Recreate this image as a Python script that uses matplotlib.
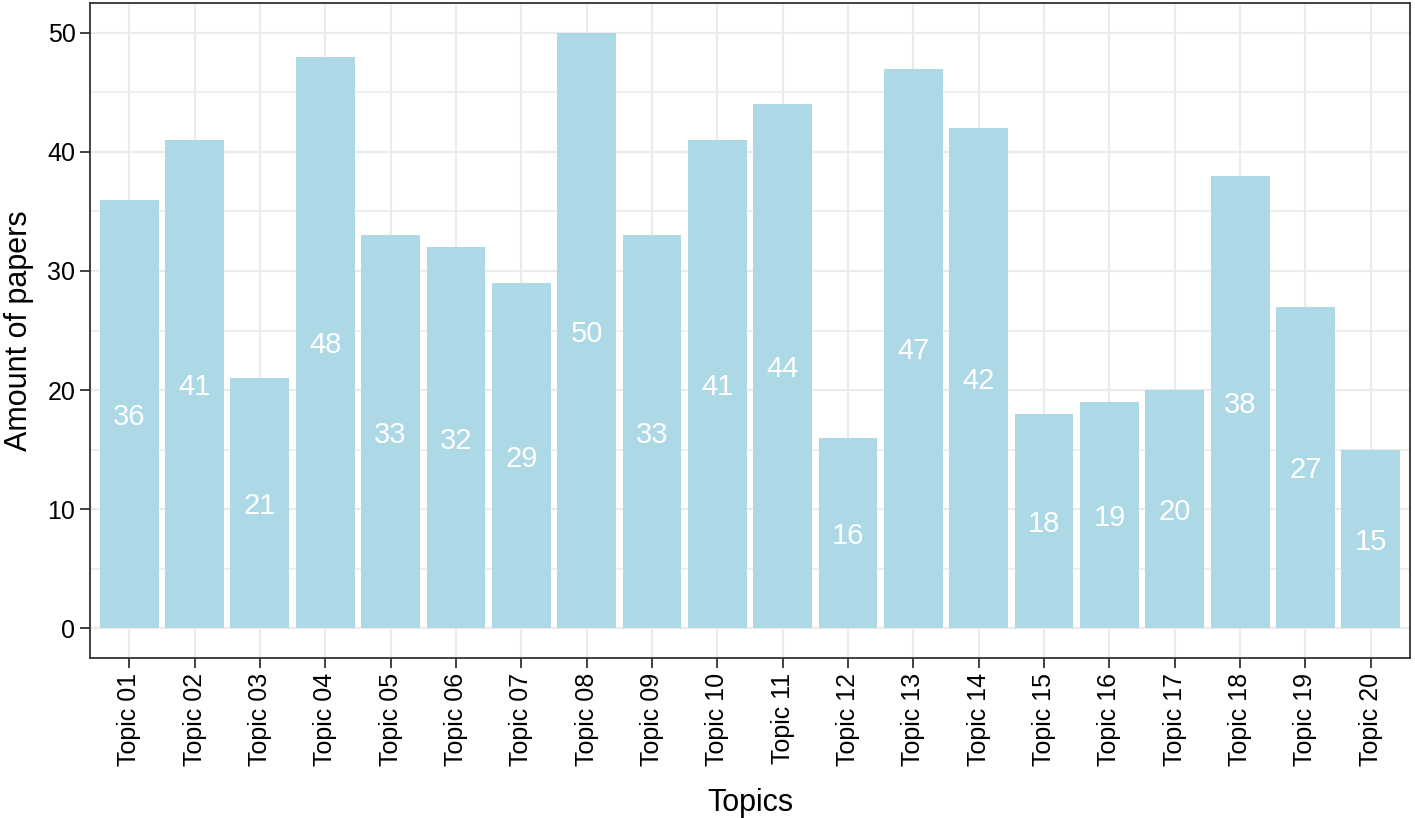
import matplotlib
matplotlib.use('Agg')
import matplotlib.pyplot as plt
from matplotlib.ticker import MultipleLocator

plt.rcParams['font.family'] = ['Liberation Sans', 'DejaVu Sans']

topics = ['Topic %02d' % i for i in range(1, 21)]
papers = [36, 41, 21, 48, 33, 32, 29, 50, 33, 41, 44, 16, 47, 42, 18, 19, 20, 38, 27, 15]

fig = plt.figure(figsize=(14.15, 8.18), dpi=100)
ax = fig.add_axes([0.0636, 0.1956, 0.9329, 0.8007])

x = list(range(1, len(topics) + 1))
ax.bar(x, papers, width=0.9, color='#ADD8E6', zorder=2)

for xi, v in zip(x, papers):
    ax.text(xi, v / 2, str(v), color='white', fontsize=21,
            ha='center', va='center_baseline', zorder=3)

ax.set_xlim(0.4, 20.6)
ax.set_ylim(-2.5, 52.5)
ax.set_xticks(x)
ax.set_xticklabels(topics, rotation=90, fontsize=18, color='black')
ax.yaxis.set_major_locator(MultipleLocator(10))
ax.yaxis.set_minor_locator(MultipleLocator(5))
ax.tick_params(axis='y', labelsize=18, labelcolor='black')
ax.tick_params(which='major', length=7, width=1.3, color='#333333')
ax.tick_params(which='minor', length=0)

ax.grid(which='major', color='#EBEBEB', linewidth=1.6, zorder=0)
ax.grid(which='minor', axis='y', color='#EBEBEB', linewidth=1.2, zorder=0)
ax.set_axisbelow(True)

for s in ax.spines.values():
    s.set_color('#333333')
    s.set_linewidth(1.3)

ax.set_xlabel('Topics', fontsize=22, labelpad=16)
ax.set_ylabel('Amount of papers', fontsize=22, labelpad=10)

fig.savefig('out.png', dpi=100)
